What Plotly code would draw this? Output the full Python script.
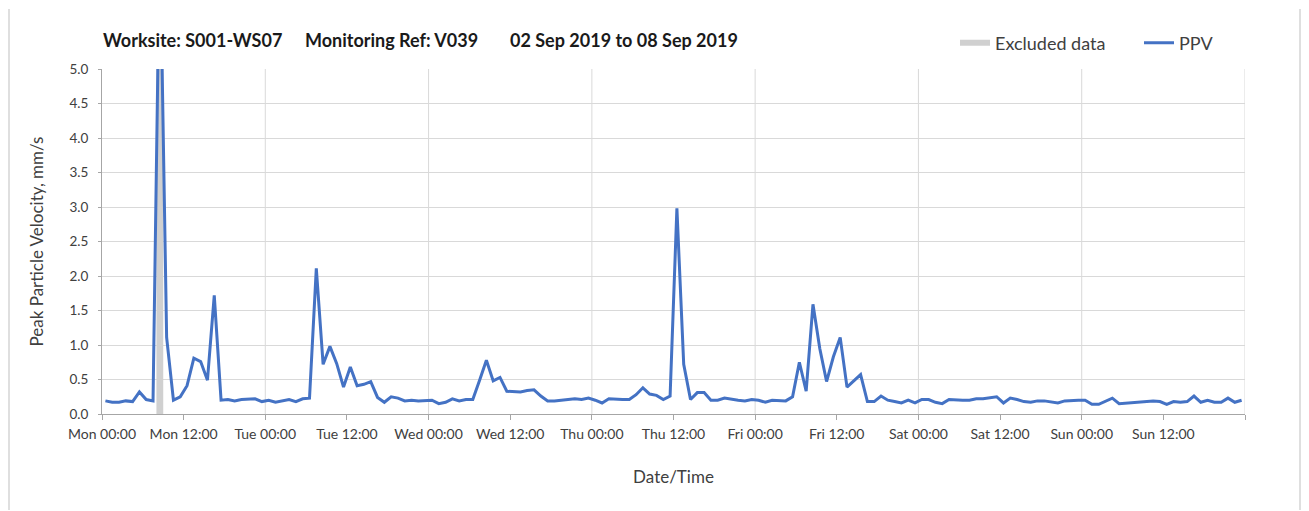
import pandas as pd
import plotly.graph_objects as go

# ---------------- data ----------------
start_time = "2019-09-02 00:30"
ppv = [
    # Mon
    0.19, 0.17, 0.17, 0.19, 0.18, 0.32, 0.21, 0.19, 7.0, 1.11, 0.20, 0.25,
    0.41, 0.81, 0.76, 0.49, 1.72, 0.20, 0.21, 0.19, 0.21, 0.21, 0.22, 0.18,
    # Tue
    0.20, 0.17, 0.19, 0.21, 0.18, 0.22, 0.23, 2.11, 0.72, 0.98, 0.73, 0.39,
    0.68, 0.41, 0.43, 0.47, 0.24, 0.17, 0.25, 0.23, 0.19, 0.20, 0.19, 0.20,
    # Wed
    0.20, 0.15, 0.17, 0.22, 0.19, 0.21, 0.21, 0.49, 0.78, 0.48, 0.53, 0.33,
    0.32, 0.32, 0.34, 0.35, 0.26, 0.19, 0.19, 0.20, 0.20, 0.22, 0.21, 0.23,
    # Thu
    0.20, 0.16, 0.22, 0.21, 0.21, 0.21, 0.28, 0.38, 0.29, 0.27, 0.21, 0.26,
    2.98, 0.72, 0.21, 0.31, 0.31, 0.20, 0.20, 0.23, 0.21, 0.20, 0.19, 0.21,
    # Fri
    0.20, 0.17, 0.20, 0.19, 0.19, 0.25, 0.75, 0.33, 1.59, 0.95, 0.47, 0.83,
    1.11, 0.39, 0.48, 0.57, 0.18, 0.18, 0.26, 0.20, 0.18, 0.16, 0.20, 0.16,
    # Sat
    0.21, 0.21, 0.17, 0.15, 0.21, 0.20, 0.20, 0.20, 0.22, 0.22, 0.24, 0.25,
    0.16, 0.23, 0.21, 0.18, 0.17, 0.19, 0.19, 0.17, 0.16, 0.19, 0.20, 0.20,
    # Sun
    0.20, 0.14, 0.14, 0.18, 0.23, 0.15, 0.16, 0.16, 0.17, 0.18, 0.19, 0.18,
    0.14, 0.18, 0.17, 0.18, 0.26, 0.17, 0.20, 0.17, 0.17, 0.23, 0.17, 0.20,
]
times = pd.date_range(start_time, periods=len(ppv), freq="h")

excluded_x = ["2019-09-02 08:00", "2019-09-02 08:00", "2019-09-02 09:00", "2019-09-02 09:00"]
excluded_y = [0, 5, 5, 0]

tick_times = pd.date_range("2019-09-02 00:00", periods=15, freq="12h")
tick_labels = ["Mon 00:00", "Mon 12:00", "Tue 00:00", "Tue 12:00", "Wed 00:00",
               "Wed 12:00", "Thu 00:00", "Thu 12:00", "Fri 00:00", "Fri 12:00",
               "Sat 00:00", "Sat 12:00", "Sun 00:00", "Sun 12:00", ""]
day_grid = pd.date_range("2019-09-03 00:00", periods=7, freq="D")
x_range = ["2019-09-02 00:00", "2019-09-09 00:00"]

title_parts = ["Worksite: S001-WS07", "Monitoring Ref: V039", "02 Sep 2019 to 08 Sep 2019"]

# ---------------- figure ----------------
FONT = "Lato"
TXT = "#404040"
GRID = "#d9d9d9"

fig = go.Figure()
fig.add_trace(go.Scatter(
    x=excluded_x, y=excluded_y, fill="toself", mode="none",
    fillcolor="#d0d0d0", name="Excluded data", hoverinfo="skip"))
fig.add_trace(go.Scatter(
    x=times, y=ppv, mode="lines", name="PPV",
    line=dict(color="#4472C4", width=3)))

# page offset (body margin) compensation: screen = figure + OFF
OFF = 8
W, H = 1309 - OFF, 511 - OFF
SL, ST, SR, SB = 102, 69, 1245, 414   # plot area in screen pixels
L, T = SL - OFF, ST - OFF
R, B = W - (SR - OFF), H - (SB - OFF)
pw, ph = SR - SL, SB - ST

def px(x):
    return (x - SL) / pw

def py(y):
    return (SB - y) / ph

shapes = []
for d in day_grid:
    shapes.append(dict(type="line", xref="x", yref="paper", x0=d, x1=d, y0=0, y1=1,
                       line=dict(color=GRID, width=1), layer="below"))
# outer frame lines
for xx in (9, 1300):
    shapes.append(dict(type="line", xref="paper", yref="paper", x0=px(xx), x1=px(xx),
                       y0=py(510), y1=py(9), line=dict(color="#bfbfbf", width=1)))

annotations = []
for text, x0 in zip(title_parts, [101, 303, 508]):
    annotations.append(dict(text="<b>" + text + "</b>", xref="paper", yref="paper",
                            x=px(x0), y=py(40), xanchor="left", yanchor="middle",
                            showarrow=False, font=dict(family=FONT, size=18, color="#1a1a1a")))

fig.update_layout(
    width=W, height=H,
    margin=dict(l=L, r=R, t=T, b=B, autoexpand=False),
    paper_bgcolor="white", plot_bgcolor="white",
    font=dict(family=FONT, color=TXT),
    shapes=shapes, annotations=annotations,
    showlegend=True,
    legend=dict(orientation="h", x=px(955), y=py(43), xanchor="left", yanchor="middle",
                font=dict(family=FONT, size=18, color=TXT),
                entrywidth=139, entrywidthmode="pixels", itemclick=False,
                bgcolor="rgba(0,0,0,0)"),
    xaxis=dict(
        type="date", range=x_range, tickvals=tick_times, ticktext=tick_labels,
        showgrid=False, zeroline=False, showline=True, linecolor="#a6a6a6", linewidth=1,
        ticks="outside", ticklen=5, tickcolor="#a6a6a6", ticklabelstandoff=2,
        tickfont=dict(family=FONT, size=14, color=TXT),
        title=dict(text="Date/Time", font=dict(family=FONT, size=17, color=TXT), standoff=30),
    ),
    yaxis=dict(
        range=[0, 5], dtick=0.5, tick0=0, tickformat=".1f",
        showgrid=True, gridcolor=GRID, gridwidth=1, zeroline=False,
        showline=True, linecolor="#a6a6a6", linewidth=1,
        ticks="outside", ticklen=3, tickcolor="#a6a6a6", ticklabelstandoff=7,
        tickfont=dict(family=FONT, size=13.5, color=TXT),
        title=dict(text="Peak Particle Velocity, mm/s", font=dict(family=FONT, size=17, color=TXT), standoff=21),
    ),
)

fig.write_html("out.html")
